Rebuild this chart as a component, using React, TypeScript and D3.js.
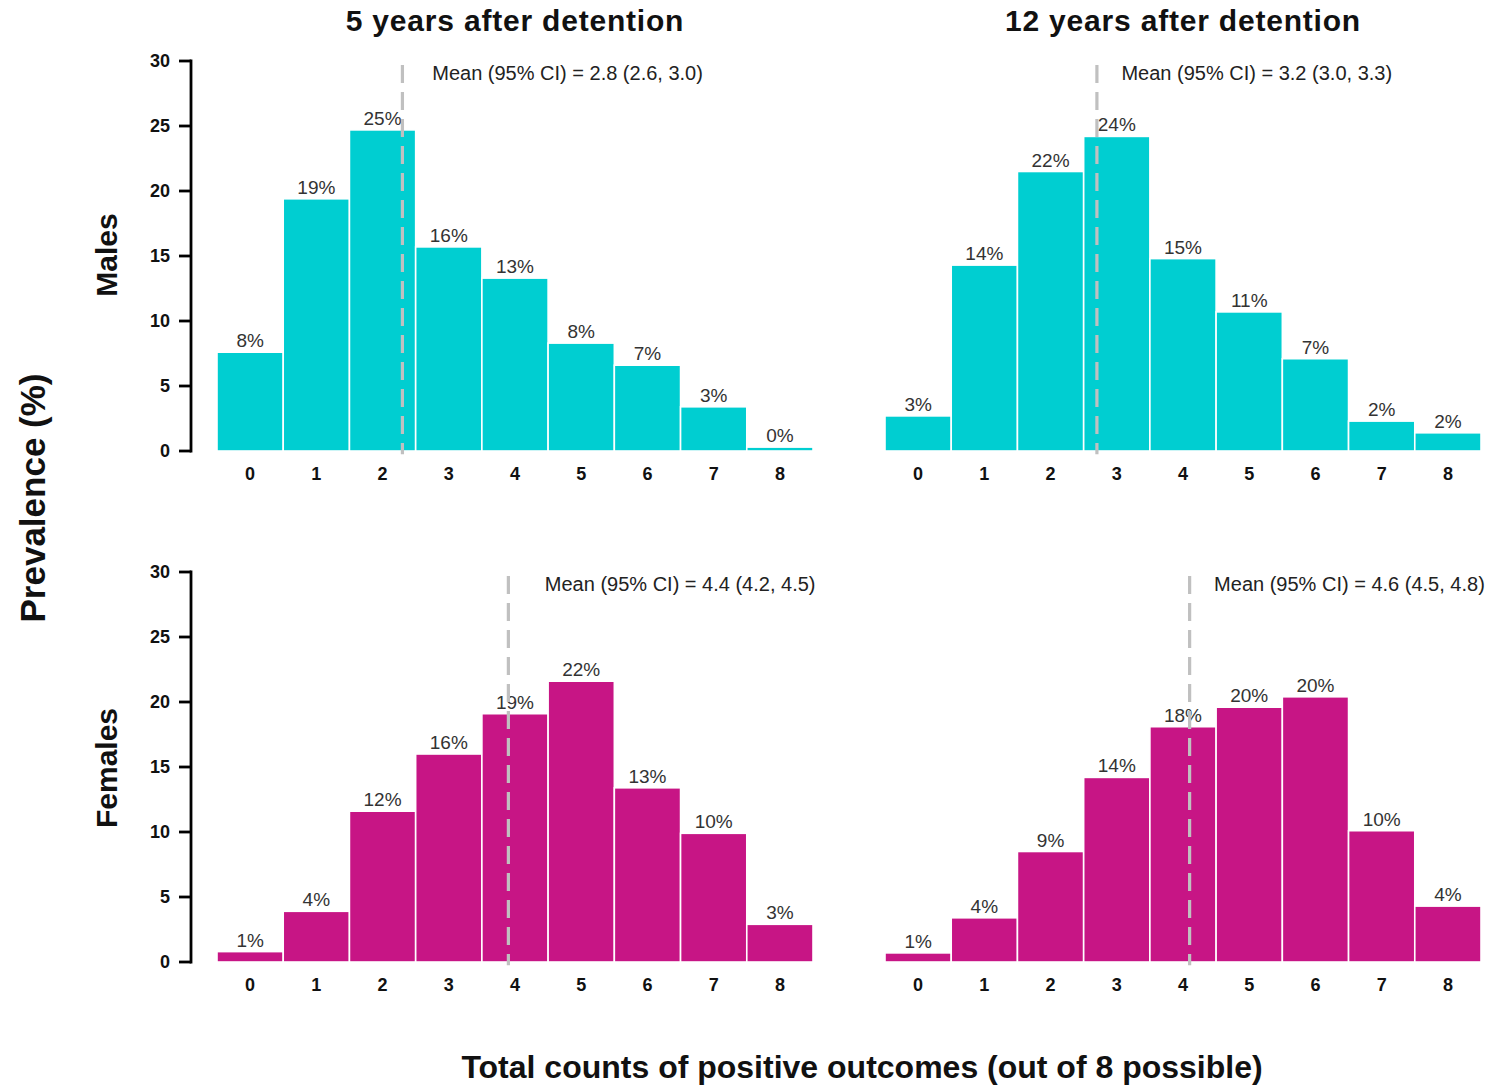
import React from 'react';
import * as d3 from 'd3';

const counts = [0, 1, 2, 3, 4, 5, 6, 7, 8];
const yTicks = [0, 5, 10, 15, 20, 25, 30];

// prevalence (%) per count of positive outcomes
const males5 = [7.6, 19.4, 24.7, 15.7, 13.3, 8.3, 6.6, 3.4, 0.3];
const males12 = [2.7, 14.3, 21.5, 24.2, 14.8, 10.7, 7.1, 2.3, 1.4];
const females5 = [0.8, 3.9, 11.6, 16.0, 19.1, 21.6, 13.4, 9.9, 2.9];
const females12 = [0.7, 3.4, 8.5, 14.2, 18.1, 19.6, 20.4, 10.1, 4.3];

// rounded labels as printed on the bars
const males5Labels = ['8%', '19%', '25%', '16%', '13%', '8%', '7%', '3%', '0%'];
const males12Labels = ['3%', '14%', '22%', '24%', '15%', '11%', '7%', '2%', '2%'];
const females5Labels = ['1%', '4%', '12%', '16%', '19%', '22%', '13%', '10%', '3%'];
const females12Labels = ['1%', '4%', '9%', '14%', '18%', '20%', '20%', '10%', '4%'];

const means = [2.8, 3.2, 4.4, 4.6];
const meanTexts = [
  'Mean (95% CI) = 2.8 (2.6, 3.0)',
  'Mean (95% CI) = 3.2 (3.0, 3.3)',
  'Mean (95% CI) = 4.4 (4.2, 4.5)',
  'Mean (95% CI) = 4.6 (4.5, 4.8)',
];

const CYAN = '#00CED1';
const MAGENTA = '#C71585';
const FONT = '"Liberation Sans", Arial, sans-serif';

const panels = [
  { values: males5, labels: males5Labels, mean: means[0], text: meanTexts[0], color: CYAN, left: 217, top: 61, axis: true, annX: 2.75 },
  { values: males12, labels: males12Labels, mean: means[1], text: meanTexts[1], color: CYAN, left: 885, top: 61, axis: false, annX: 3.07 },
  { values: females5, labels: females5Labels, mean: means[2], text: meanTexts[2], color: MAGENTA, left: 217, top: 572, axis: true, annX: 4.45 },
  { values: females12, labels: females12Labels, mean: means[3], text: meanTexts[3], color: MAGENTA, left: 885, top: 572, axis: false, annX: 4.47 },
];

const plotW = 596;
const plotH = 390;

const Panel = ({ p }) => {
  const x = d3.scaleLinear().domain([-0.5, 8.5]).range([p.left, p.left + plotW]);
  const y = d3.scaleLinear().domain([0, 30]).range([p.top + plotH, p.top]);
  // the mean line is drawn at mean - 0.5 on the bar-centre scale
  const mx = x(p.mean - 0.5);
  return (
    <g>
      {counts.map((c, i) => (
        <rect
          key={c}
          x={x(c - 0.5)}
          y={y(p.values[i])}
          width={x(c + 0.5) - x(c - 0.5)}
          height={y(0) - y(p.values[i])}
          fill={p.color}
          stroke="#fff"
          strokeWidth={1.6}
        />
      ))}
      {counts.map((c, i) => (
        <text
          key={'l' + c}
          x={x(c)}
          y={y(p.values[i]) - 5}
          textAnchor="middle"
          fontSize={19}
          fill="#333"
        >
          {p.labels[i]}
        </text>
      ))}
      {counts.map((c) => (
        <text
          key={'t' + c}
          x={x(c)}
          y={y(0) + 29}
          textAnchor="middle"
          fontSize={18}
          fontWeight="bold"
          fill="#111"
        >
          {c}
        </text>
      ))}
      <line
        x1={mx}
        x2={mx}
        y1={y(29.7)}
        y2={y(-0.25)}
        stroke="#c0c0c0"
        strokeWidth={3.2}
        strokeDasharray="18,9"
      />
      <text x={x(p.annX)} y={p.top + 19} fontSize={20} fill="#222">
        {p.text}
      </text>
      {p.axis && (
        <g>
          <line x1={191} x2={191} y1={y(30)} y2={y(0)} stroke="#000" strokeWidth={2.8} strokeLinecap="square" />
          {yTicks.map((t) => (
            <g key={t}>
              <line x1={179} x2={191} y1={y(t)} y2={y(t)} stroke="#000" strokeWidth={2.8} />
              <text x={170} y={y(t) + 6} textAnchor="end" fontSize={18} fontWeight="bold" fill="#111">
                {t}
              </text>
            </g>
          ))}
        </g>
      )}
    </g>
  );
};

export default function App() {
  return (
    <svg
      width={1491}
      height={1087}
      style={{ position: 'absolute', left: 0, top: 0, fontFamily: FONT }}
    >
      <rect width={1491} height={1087} fill="#fff" />
      {panels.map((p, i) => (
        <Panel key={i} p={p} />
      ))}
      <text x={515} y={31} textAnchor="middle" fontSize={30} fontWeight="bold" letterSpacing={0.8} fill="#111">
        5 years after detention
      </text>
      <text x={1183} y={31} textAnchor="middle" fontSize={30} fontWeight="bold" letterSpacing={0.8} fill="#111">
        12 years after detention
      </text>
      <text transform="translate(117,255) rotate(-90)" textAnchor="middle" fontSize={30} fontWeight="bold" fill="#111">
        Males
      </text>
      <text transform="translate(117,768) rotate(-90)" textAnchor="middle" fontSize={30} fontWeight="bold" fill="#111">
        Females
      </text>
      <text transform="translate(45,498) rotate(-90)" textAnchor="middle" fontSize={35} fontWeight="bold" fill="#111">
        Prevalence (%)
      </text>
      <text x={862} y={1078} textAnchor="middle" fontSize={32} fontWeight="bold" fill="#111">
        Total counts of positive outcomes (out of 8 possible)
      </text>
    </svg>
  );
}
